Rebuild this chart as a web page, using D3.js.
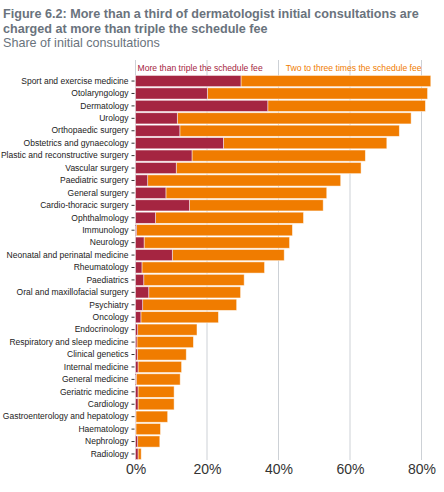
<!DOCTYPE html>
<html>
<head>
<meta charset="utf-8">
<script src="https://cdn.jsdelivr.net/npm/d3@7"></script>
<style>
  body { margin: 0; background: #fff; }
  text { font-family: "Liberation Sans", Arial, sans-serif; }
</style>
</head>
<body>
<svg id="chart"></svg>
<script>
// specialties, top to bottom
const specialties = [
  "Sport and exercise medicine", "Otolaryngology", "Dermatology", "Urology",
  "Orthopaedic surgery", "Obstetrics and gynaecology", "Plastic and reconstructive surgery",
  "Vascular surgery", "Paediatric surgery", "General surgery", "Cardio-thoracic surgery",
  "Ophthalmology", "Immunology", "Neurology", "Neonatal and perinatal medicine",
  "Rheumatology", "Paediatrics", "Oral and maxillofacial surgery", "Psychiatry",
  "Oncology", "Endocrinology", "Respiratory and sleep medicine", "Clinical genetics",
  "Internal medicine", "General medicine", "Geriatric medicine", "Cardiology",
  "Gastroenterology and hepatology", "Haematology", "Nephrology", "Radiology"
];
// % of initial consultations charged more than triple the schedule fee
const moreThanTriple = [
  29.5, 20.1, 37.0, 11.7, 12.4, 24.6, 15.8, 11.4, 3.4, 8.5, 15.1,
  5.6, 0.3, 2.4, 10.3, 1.8, 2.3, 3.7, 2.0, 1.5, 0.6, 0.4, 0.5,
  0.7, 0.2, 0.7, 0.7, 0.1, 0.1, 0.6, 0.7
];
// % charged two to three times the schedule fee
const twoToThree = [
  53.1, 61.6, 44.1, 65.4, 61.4, 45.7, 48.5, 51.7, 54.0, 45.0, 37.4,
  41.4, 43.6, 40.7, 31.3, 34.3, 28.1, 25.7, 26.3, 21.7, 16.6, 15.8, 13.7,
  12.2, 12.3, 10.1, 10.1, 8.9, 6.9, 6.2, 0.9
];
const xTicks = [0, 20, 40, 60, 80];

const width = 444, height = 492;
const svg = d3.select("#chart").attr("width", width).attr("height", height);

const colRed = "#a52541", colOrange = "#f07c00", titleCol = "#6a737d";

// titles
svg.append("text").attr("x", 3).attr("y", 18)
  .attr("font-size", 12.6).attr("font-weight", "bold").attr("fill", titleCol)
  .text("Figure 6.2: More than a third of dermatologist initial consultations are");
svg.append("text").attr("x", 3).attr("y", 32.5)
  .attr("font-size", 12.6).attr("font-weight", "bold").attr("fill", titleCol)
  .text("charged at more than triple the schedule fee");
svg.append("text").attr("x", 3).attr("y", 47)
  .attr("font-size", 12.6).attr("fill", titleCol)
  .text("Share of initial consultations");

const x = d3.scaleLinear().domain([0, 80]).range([135.5, 421.5]);
const y = d3.scaleBand().domain(specialties).range([74.2, 460.8]).padding(0.1);

// gridlines
svg.append("g").selectAll("line").data(xTicks).join("line")
  .attr("x1", d => x(d)).attr("x2", d => x(d))
  .attr("y1", 60).attr("y2", 460)
  .attr("stroke", "#cdd1d6").attr("stroke-width", 1);

// legend labels
svg.append("text").attr("x", x(0) + 2).attr("y", 71)
  .attr("font-size", 8.6).attr("fill", colRed)
  .text("More than triple the schedule fee");
svg.append("text").attr("x", x(80)).attr("y", 71)
  .attr("text-anchor", "end").attr("font-size", 8.6).attr("fill", colOrange)
  .text("Two to three times the schedule fee");

const rows = specialties.map((s, i) => ({ s, a: moreThanTriple[i], b: twoToThree[i] }));

const bars = svg.append("g");
bars.selectAll("rect.orange").data(rows).join("rect")
  .attr("class", "orange")
  .attr("x", d => x(d.a)).attr("width", d => x(d.a + d.b) - x(d.a))
  .attr("y", d => y(d.s)).attr("height", y.bandwidth())
  .attr("fill", colOrange).attr("stroke", "#fff").attr("stroke-opacity", 0.6).attr("stroke-width", 0.8);
bars.selectAll("rect.red").data(rows).join("rect")
  .attr("class", "red")
  .attr("x", x(0)).attr("width", d => x(d.a) - x(0))
  .attr("y", d => y(d.s)).attr("height", y.bandwidth())
  .attr("fill", colRed).attr("stroke", "#fff").attr("stroke-opacity", 0.6).attr("stroke-width", 0.8);

// y axis
const yAxis = svg.append("g").attr("transform", `translate(${x(0) - 1},0)`)
  .call(d3.axisLeft(y).tickSize(3).tickPadding(3));
yAxis.select(".domain").remove();
yAxis.selectAll("text").attr("font-size", 8.5).attr("fill", "#222")
  .style("font-family", '"Liberation Sans", Arial, sans-serif');
yAxis.selectAll("line").attr("stroke", "#333");

// x axis
const xAxis = svg.append("g").attr("transform", "translate(0,460)")
  .call(d3.axisBottom(x).tickValues(xTicks).tickFormat(d => d + "%").tickSize(0).tickPadding(4));
xAxis.select(".domain").remove();
xAxis.selectAll("text").attr("font-size", 14).attr("fill", "#333")
  .style("font-family", '"Liberation Sans", Arial, sans-serif');
</script>
</body>
</html>
